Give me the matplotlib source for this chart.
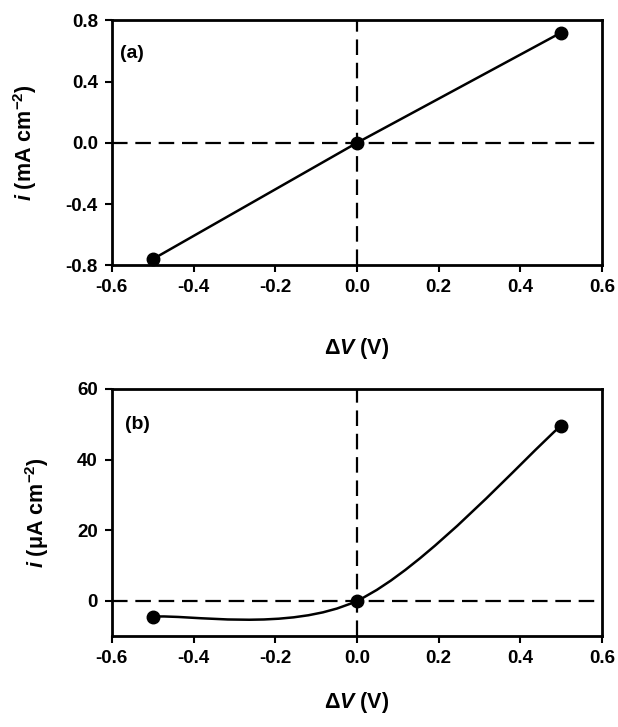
import numpy as np
import matplotlib
matplotlib.use("Agg")
from matplotlib import pyplot as plt
from matplotlib.path import Path
from matplotlib.patches import PathPatch

plt.rcParams['font.family'] = ['Liberation Sans', 'DejaVu Sans']
plt.rcParams['font.weight'] = 'bold'
plt.rcParams['axes.unicode_minus'] = False
plt.rcParams['mathtext.fontset'] = 'custom'
plt.rcParams['mathtext.rm'] = 'Liberation Sans'
plt.rcParams['mathtext.it'] = 'Liberation Sans:italic:bold'
plt.rcParams['mathtext.bf'] = 'Liberation Sans:bold'

# data
dv = [-0.5, 0.0, 0.5]
i_a = [-0.76, 0.0, 0.72]     # mA cm-2
i_b = [-4.5, 0.0, 49.6]      # uA cm-2

xticks = [-0.6, -0.4, -0.2, 0.0, 0.2, 0.4, 0.6]
yticks_a = [-0.8, -0.4, 0.0, 0.4, 0.8]
yticks_b = [0, 20, 40, 60]


def smooth_path(x, y):
    # excel-like smoothed line: cubic bezier, tangents from neighbours / 6
    pts = np.column_stack([x, y]).astype(float)
    n = len(pts)
    verts = [pts[0]]
    codes = [Path.MOVETO]
    for k in range(n - 1):
        p0 = pts[k - 1] if k > 0 else pts[k]
        p1 = pts[k]
        p2 = pts[k + 1]
        p3 = pts[k + 2] if k + 2 < n else pts[k + 1]
        c1 = p1 + (p2 - p0) / 6.0
        c2 = p2 - (p3 - p1) / 6.0
        verts += [c1, c2, p2]
        codes += [Path.CURVE4] * 3
    return Path(verts, codes)


def style_axes(ax, yticks, yfmt):
    ax.set_xlim(-0.6, 0.6)
    ax.set_xticks(xticks)
    ax.set_xticklabels([f"{t:.1f}" for t in xticks])
    ax.set_yticks(yticks)
    ax.set_yticklabels([yfmt.format(t) for t in yticks])
    for s in ax.spines.values():
        s.set_linewidth(2.0)
    ax.tick_params(direction='out', length=5, width=1.5, labelsize=13.5, pad=5)
    ax.axhline(0, color='black', lw=1.6, dashes=(7, 3.5), zorder=1)
    ax.axvline(0, color='black', lw=1.6, dashes=(7, 3.5), zorder=1)


fig = plt.figure(figsize=(6.18, 7.27), dpi=100)

ax1 = fig.add_axes([0.181, 0.635, 0.793, 0.337])
ax1.set_ylim(-0.8, 0.8)
style_axes(ax1, yticks_a, "{:.1f}")
ax1.plot(dv, i_a, color='black', lw=1.8, marker='o', ms=9, zorder=3, clip_on=False)
ax1.text(0.016, 0.865, '(a)', transform=ax1.transAxes, fontsize=14, fontweight='bold', va='center')
ax1.set_ylabel(r'$i$ (mA cm$^{\mathbf{-2}}$)', fontsize=15.5, fontweight='bold', va='center')
ax1.yaxis.set_label_coords(-0.178, 0.5)
ax1.set_xlabel(r'$\Delta\mathit{V}$ (V)', fontsize=15.5, fontweight='bold', va='center')
ax1.xaxis.set_label_coords(0.5, -0.339)

ax2 = fig.add_axes([0.181, 0.125, 0.793, 0.340])
ax2.set_ylim(-10, 60)
style_axes(ax2, yticks_b, "{:.0f}")
ax2.add_patch(PathPatch(smooth_path(dv, i_b), facecolor='none', edgecolor='black',
                        lw=1.8, zorder=3))
ax2.plot(dv, i_b, linestyle='none', color='black', marker='o', ms=9, zorder=4, clip_on=False)
ax2.text(0.027, 0.858, '(b)', transform=ax2.transAxes, fontsize=14, fontweight='bold', va='center')
ax2.set_ylabel(r'$i$ (μA cm$^{\mathbf{-2}}$)', fontsize=15.5, fontweight='bold', va='center')
ax2.yaxis.set_label_coords(-0.153, 0.5)
ax2.set_xlabel(r'$\Delta\mathit{V}$ (V)', fontsize=15.5, fontweight='bold', va='center')
ax2.xaxis.set_label_coords(0.5, -0.267)

fig.savefig('out.png', dpi=100)
